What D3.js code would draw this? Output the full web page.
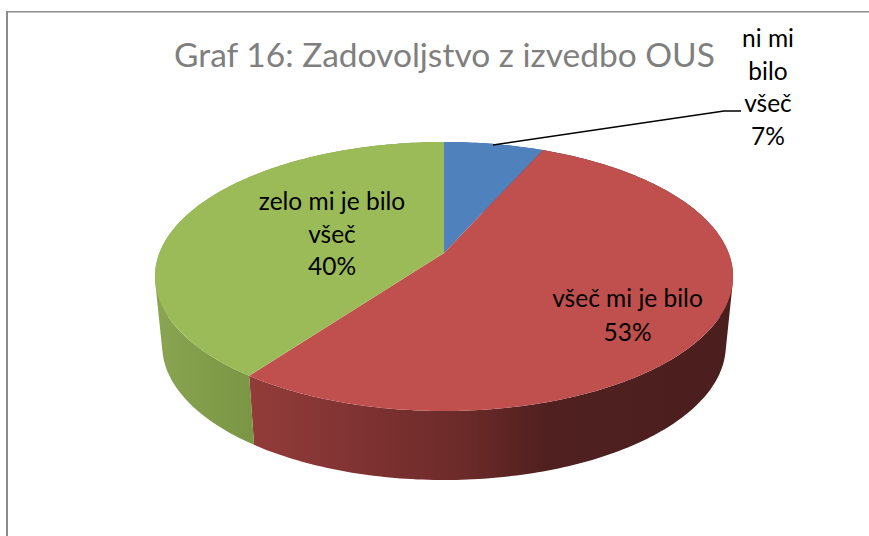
<!DOCTYPE html>
<html>
<head>
<meta charset="utf-8">
<script src="https://cdn.jsdelivr.net/npm/d3@7"></script>
<style>
  html, body { margin: 0; padding: 0; background: #fff; }
  svg { display: block; font-family: Lato, "Open Sans", sans-serif; }
</style>
</head>
<body>
<div class="canvas"></div>
<script>
const categories = ['ni mi bilo všeč', 'všeč mi je bilo', 'zelo mi je bilo všeč'];
const values = [6.6, 53.4, 40];
const percentLabels = ['7%', '53%', '40%'];
const topColors = ['#4f81bd', '#c0504d', '#9bbb59'];
const title = 'Graf 16: Zadovoljstvo z izvedbo OUS';

// how each label is wrapped in the picture
const labelLines = [['ni mi', 'bilo', 'všeč'], ['všeč mi je bilo'], ['zelo mi je bilo', 'všeč']];
const labelPos = [
  { x: 768, y: 47, lh: 32.7 },
  { x: 627.5, y: 307, lh: 33.5 },
  { x: 332, y: 210, lh: 32.5 }
];

const width = 869, height = 536;

const svg = d3.select('.canvas')
  .append('svg')
   .attr('width', width)
   .attr('height', height);

//chart border, only top and left show
svg.append('line')
  .attr('x1', 7).attr('x2', 7)
  .attr('y1', 11).attr('y2', height)
  .attr('stroke', '#8c8c8c')
  .attr('stroke-width', 2);
svg.append('line')
  .attr('x1', 6).attr('x2', width)
  .attr('y1', 11.7).attr('y2', 11.7)
  .attr('stroke', '#8c8c8c')
  .attr('stroke-width', 1.4);

//perspective projection of the disc
const cx = 444, apexY = 253, p = 0.1747, R = 284.6, A = 130.4;
const depth = 69, shrink = 0.975;

function project(angle, bottom) {
  const u = Math.sin(angle), v = -Math.cos(angle);
  const k = 1 / (1 - p * v);
  const s = bottom ? shrink : 1;
  return [cx + R * s * u * k, apexY + (bottom ? depth : 0) + A * v * k];
}

function arcPoints(d, bottom) {
  const n = Math.max(2, Math.ceil((d.endAngle - d.startAngle) * 60));
  return d3.range(n + 1).map(i => project(d.startAngle + (d.endAngle - d.startAngle) * i / n, bottom));
}

const pie = d3.pie().sort(null).value(d => d);
const slices = pie(values);
const line = d3.line();

//wall is swept quad by quad so it also fills the straight edge at the silhouette
function wallPath(d) {
  const t = arcPoints(d, false), b = arcPoints(d, true);
  return d3.range(t.length - 1).map(i => {
    const quad = [t[i], t[i + 1], b[i + 1], b[i]];
    if (d3.polygonArea(quad) < 0) quad.reverse();
    return line(quad) + 'Z';
  }).join('');
}

//gradients for the side wall
const defs = svg.append('defs');
const wallStops = [
  [['0', '#3f6592'], ['1', '#3f6592']],
  [['0', '#933c3a'], ['0.45', '#6b2a29'], ['0.62', '#4f201f'], ['1', '#4b1f1e']],
  [['0', '#8aa552'], ['1', '#7a9543']]
];
const wallRange = [[444, 541], [248, 733], [155, 253]];
wallStops.forEach((stops, i) => {
  const g = defs.append('linearGradient')
    .attr('id', 'wall' + i)
    .attr('gradientUnits', 'userSpaceOnUse')
    .attr('x1', wallRange[i][0]).attr('x2', wallRange[i][1])
    .attr('y1', 0).attr('y2', 0);
  stops.forEach(s => g.append('stop').attr('offset', s[0]).attr('stop-color', s[1]));
});

//side wall first, the top covers the back part
svg.append('g').selectAll('path')
  .data(slices)
  .enter().append('path')
   .attr('d', wallPath)
   .attr('fill', (d, i) => `url(#wall${i})`);

//top of the disc
svg.append('g').selectAll('path')
  .data(slices)
  .enter().append('path')
   .attr('d', d => line([[cx, apexY]].concat(arcPoints(d, false))) + 'Z')
   .attr('fill', (d, i) => topColors[i]);

//leader line for the small slice
svg.append('polyline')
  .attr('points', '493,145 724,111 741,111')
  .attr('fill', 'none')
  .attr('stroke', '#000')
  .attr('stroke-width', 1.5);

svg.append('text')
  .attr('x', 444.5).attr('y', 67)
  .attr('text-anchor', 'middle')
  .attr('font-size', 33.5)
  .attr('fill', '#7f7f7f')
  .text(title);

//data labels
const labels = svg.append('g')
  .attr('font-size', 24.5)
  .attr('fill', '#000')
  .attr('text-anchor', 'middle');

categories.forEach((c, i) => {
  const lines = labelLines[i].concat(percentLabels[i]);
  lines.forEach((t, j) => {
    labels.append('text')
      .attr('x', labelPos[i].x)
      .attr('y', labelPos[i].y + j * labelPos[i].lh)
      .text(t);
  });
});
</script>
</body>
</html>
